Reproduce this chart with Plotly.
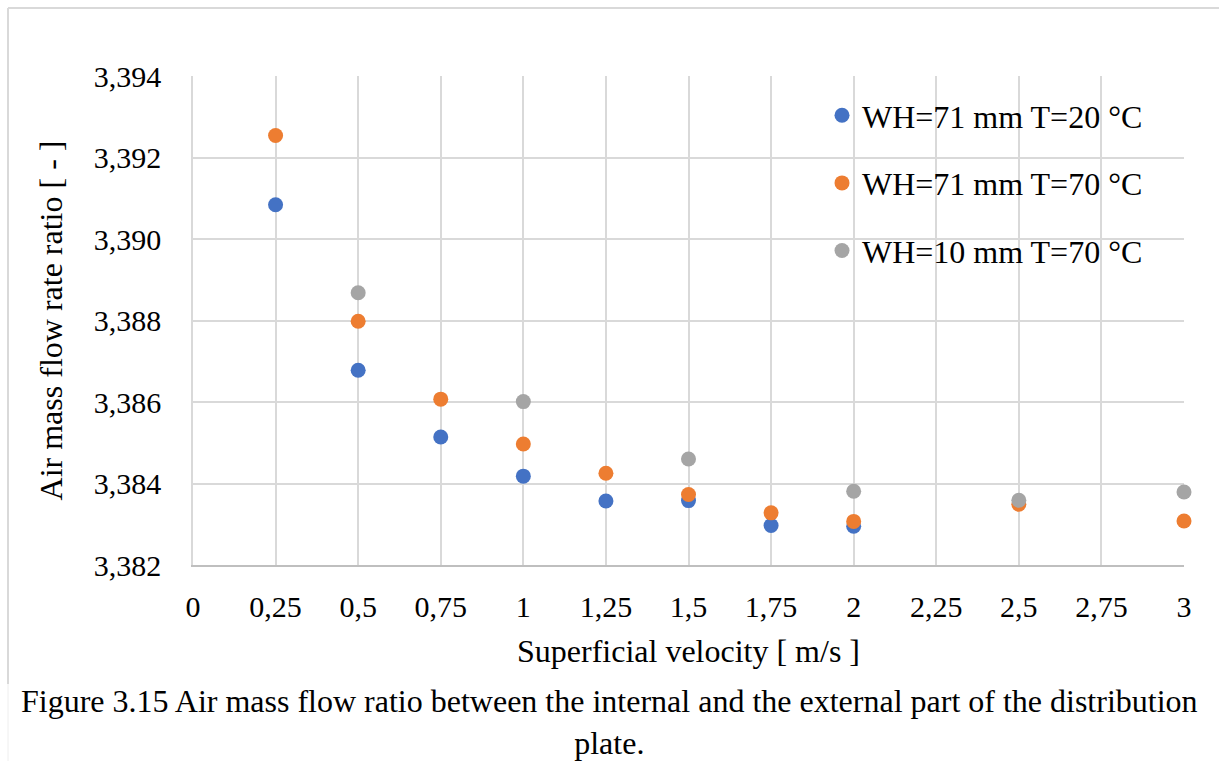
import plotly.graph_objects as go

# ---- data ----
series_names = ["WH=71 mm T=20 °C", "WH=71 mm T=70 °C", "WH=10 mm T=70 °C"]
x_blue = [0.25, 0.5, 0.75, 1.0, 1.25, 1.5, 1.75, 2.0]
y_blue = [3.39084, 3.38678, 3.38514, 3.38418, 3.38357, 3.38358, 3.38297, 3.38295]
x_orange = [0.25, 0.5, 0.75, 1.0, 1.25, 1.5, 1.75, 2.0, 2.5, 3.0]
y_orange = [3.39254, 3.38798, 3.38607, 3.38497, 3.38425, 3.38373, 3.38328, 3.38307, 3.38349, 3.38308]
x_gray = [0.5, 1.0, 1.5, 2.0, 2.5, 3.0]
y_gray = [3.38868, 3.38601, 3.38460, 3.38381, 3.38359, 3.38379]
colors = ["#4472C4", "#ED7D31", "#A5A5A5"]

x_tickvals = [0, 0.25, 0.5, 0.75, 1, 1.25, 1.5, 1.75, 2, 2.25, 2.5, 2.75, 3]
x_ticktext = ["0", "0,25", "0,5", "0,75", "1", "1,25", "1,5", "1,75", "2", "2,25", "2,5", "2,75", "3"]
y_tickvals = [3.382, 3.384, 3.386, 3.388, 3.390, 3.392, 3.394]
y_ticktext = ["3,382", "3,384", "3,386", "3,388", "3,390", "3,392", "3,394"]

x_title = "Superficial velocity [ m/s ]"
y_title = "Air mass flow rate ratio [ - ]"
caption = "Figure 3.15 Air mass flow ratio between the internal and the external part of the distribution<br>plate."

# ---- layout geometry ----
W, H = 1219, 761
ML, MR, MT, MB = 193, 35, 76, 196
PW, PH = W - ML - MR, H - MT - MB

def px_x(p):
    return (p - ML) / PW

def px_y(p):
    return (H - MB - p) / PH

FONT = "Liberation Serif, Times New Roman, serif"
GRID = "#D9D9D9"

fig = go.Figure()
for name, xs, ys, c in zip(series_names, [x_blue, x_orange, x_gray], [y_blue, y_orange, y_gray], colors):
    fig.add_trace(go.Scatter(x=xs, y=ys, mode="markers", name=name, legendgroup=name,
                             marker=dict(size=15, color=c), cliponaxis=False))

fig.update_layout(
    width=W, height=H,
    margin=dict(l=ML, r=MR, t=MT, b=MB),
    paper_bgcolor="white", plot_bgcolor="white",
    separators=",.",
    font=dict(family=FONT, size=30, color="black"),
    showlegend=True,
    legend=dict(x=px_x(822), y=px_y(88), xanchor="left", yanchor="top",
                bgcolor="rgba(0,0,0,0)", font=dict(family=FONT, size=32),
                tracegroupgap=23, itemsizing="trace"),
)
fig.update_xaxes(range=[0, 3], tickvals=x_tickvals, ticktext=x_ticktext,
                 showgrid=True, gridcolor=GRID, gridwidth=1.5,
                 showline=True, linecolor="#BFBFBF", linewidth=1.5,
                 zeroline=False, ticks="", ticklabelstandoff=14,
                 tickfont=dict(size=30),
                 title=dict(text=x_title, standoff=18, font=dict(size=32)))
fig.update_yaxes(range=[3.382, 3.394], tickvals=y_tickvals, ticktext=y_ticktext,
                 showgrid=True, gridcolor=GRID, gridwidth=1.5,
                 showline=True, linecolor=GRID, linewidth=1.5,
                 zeroline=False, ticks="", ticklabelstandoff=24,
                 tickfont=dict(size=30),
                 title=dict(text=y_title, standoff=22, font=dict(size=32)))

# caption
fig.add_annotation(text=caption, xref="paper", yref="paper", x=px_x(W / 2), y=px_y(722),
                   xanchor="center", yanchor="middle", showarrow=False, align="center",
                   font=dict(family=FONT, size=32, color="black"))

# outer chart frame
fig.add_shape(type="line", xref="paper", yref="paper", x0=px_x(8), x1=px_x(W + 5),
              y0=px_y(8), y1=px_y(8), line=dict(color=GRID, width=2))
fig.add_shape(type="line", xref="paper", yref="paper", x0=px_x(8), x1=px_x(8),
              y0=px_y(8), y1=px_y(684), line=dict(color=GRID, width=2))
fig.add_shape(type="line", xref="paper", yref="paper", x0=px_x(8), x1=px_x(8),
              y0=px_y(684), y1=px_y(H + 5), line=dict(color="#EEEEEE", width=1))

fig.write_html("out.html")
